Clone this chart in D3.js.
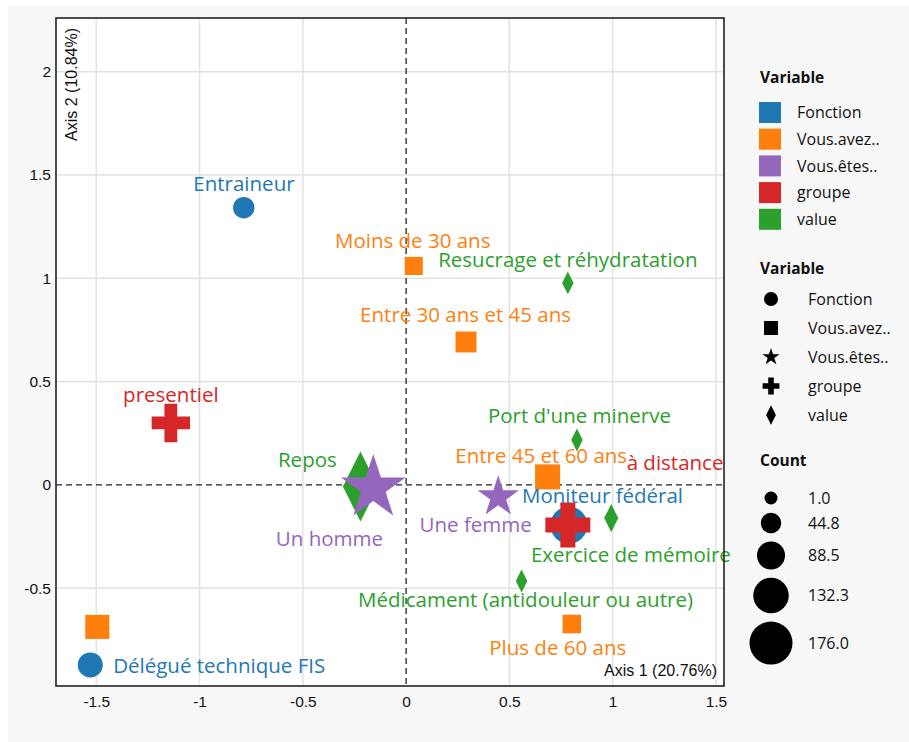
<!DOCTYPE html>
<html>
<head>
<meta charset="utf-8">
<script src="https://cdn.jsdelivr.net/npm/d3@7"></script>
<style>
    body { margin: 0; background: #fff; }
    svg { display: block; }
</style>
</head>
<body>
<svg id="chart" width="909" height="742"></svg>
<script>
// Category labels of the MCA biplot
const labels = [
    'Entraineur', 'Délégué technique FIS', 'Moniteur fédéral',
    'Moins de 30 ans', 'Entre 30 ans et 45 ans', 'Entre 45 et 60 ans', 'Plus de 60 ans', '',
    'Un homme', 'Une femme',
    'presentiel', 'à distance',
    'Resucrage et réhydratation', "Port d'une minerve", 'Exercice de mémoire',
    'Médicament (antidouleur ou autre)', 'Repos'
];
const variable = [
    'Fonction', 'Fonction', 'Fonction',
    'Vous.avez..', 'Vous.avez..', 'Vous.avez..', 'Vous.avez..', 'Vous.avez..',
    'Vous.êtes..', 'Vous.êtes..',
    'groupe', 'groupe',
    'value', 'value', 'value', 'value', 'value'
];
const dim1 = [-0.786, -1.529, 0.788, 0.037, 0.290, 0.685, 0.802, -1.495, -0.159, 0.446, -1.139, 0.783, 0.783, 0.827, 0.993, 0.559, -0.221];
const dim2 = [1.342, -0.871, -0.194, 1.060, 0.692, 0.039, -0.673, -0.687, -0.015, -0.058, 0.300, -0.194, 0.978, 0.218, -0.160, -0.465, -0.008];
const counts = [57, 72, 122, 43, 55, 72, 45, 68, 170, 97, 101, 124, 36, 36, 51, 36, 176];
// where each label text sits (data units, text centre / baseline)
const textDim1 = [-0.785, -0.905, 0.951, 0.032, 0.288, 0.654, 0.734, 0, -0.371, 0.337, -1.139, 1.302, 0.783, 0.839, 1.088, 0.578, -0.478];
const textDim2 = [1.425, -0.910, -0.087, 1.147, 0.789, 0.106, -0.823, 0, -0.295, -0.227, 0.402, 0.073, 1.055, 0.300, -0.373, -0.590, 0.087];

const variableNames = ['Fonction', 'Vous.avez..', 'Vous.êtes..', 'groupe', 'value'];
const variableColors = ['#1f77b4', '#ff7f0e', '#9467bd', '#d62728', '#2ca02c'];
const variableShapes = ['circle', 'square', 'star', 'cross', 'diamond-tall'];
const drawOrder = ['value', 'Fonction', 'Vous.avez..', 'Vous.êtes..', 'groupe'];
const countBreaks = [1.0, 44.8, 88.5, 132.3, 176.0];
const xTicks = [-1.5, -1, -0.5, 0, 0.5, 1, 1.5];
const yTicks = [-0.5, 0, 0.5, 1, 1.5, 2];

const W = 909, H = 742;
const plot = { left: 56, top: 18, right: 724, bottom: 686 };
const labelFont = '"Open Sans", "Noto Sans", sans-serif';
const tickFont = '"Liberation Sans", Arial, sans-serif';

const svg = d3.select('#chart');

const x = d3.scaleLinear().domain([-1.695, 1.539]).range([plot.left, plot.right]);
const y = d3.scaleLinear().domain([-0.973, 2.26]).range([plot.bottom, plot.top]);
const color = d3.scaleOrdinal().domain(variableNames).range(variableColors);
const shape = d3.scaleOrdinal().domain(variableNames).range(variableShapes);
const sizePlot = d3.scaleLinear().domain([1, 176]).range([8, 50]);
const sizeLegend = d3.scaleLinear().domain([1, 176]).range([13, 43]);

// plotly-like marker paths, size = marker diameter
function symbolPath(kind, size) {
    const r = size / 2;
    if (kind === 'circle') {
        return `M${r},0A${r},${r} 0 1,1 0,-${r}A${r},${r} 0 0,1 ${r},0Z`;
    }
    if (kind === 'square') {
        return `M${r},${r}H${-r}V${-r}H${r}Z`;
    }
    if (kind === 'cross') {
        const rc = r * 1.2, rt = r * 0.4;
        return `M${rc},${rt}H${rt}V${rc}H${-rt}V${rt}H${-rc}V${-rt}H${-rt}V${-rc}H${rt}V${-rt}H${rc}Z`;
    }
    if (kind === 'diamond-tall') {
        const dx = r * 0.7, dy = r * 1.4;
        return `M0,${dy}L${dx},0L0,${-dy}L${-dx},0Z`;
    }
    if (kind === 'star') {
        const rs = r * 1.4;
        const x1 = rs * 0.225, x2 = rs * 0.951, x3 = rs * 0.363, x4 = rs * 0.588;
        const y0 = -rs, y1 = rs * -0.309, y3 = rs * 0.118, y4 = rs * 0.809, y5 = rs * 0.382;
        return `M${x1},${y1}H${x2}L${x3},${y3}L${x4},${y4}L0,${y5}L${-x4},${y4}L${-x3},${y3}L${-x2},${y1}H${-x1}L0,${y0}Z`;
    }
    return '';
}

// background
svg.append('rect').attr('width', W).attr('height', H).attr('fill', '#fff');
svg.append('rect').attr('x', 8).attr('y', 6).attr('width', W - 8).attr('height', H - 6).attr('fill', '#f7f7f7');
svg.append('rect')
    .attr('x', plot.left).attr('y', plot.top)
    .attr('width', plot.right - plot.left).attr('height', plot.bottom - plot.top)
    .attr('fill', '#fff');

// grid
const grid = svg.append('g');
grid.selectAll('.gx').data(xTicks.filter(d => d !== 0)).enter().append('line')
    .attr('x1', d => x(d)).attr('x2', d => x(d))
    .attr('y1', plot.top).attr('y2', plot.bottom)
    .attr('stroke', '#e2e2e2').attr('stroke-width', 1.5);
grid.selectAll('.gy').data(yTicks.filter(d => d !== 0)).enter().append('line')
    .attr('y1', d => y(d)).attr('y2', d => y(d))
    .attr('x1', plot.left).attr('x2', plot.right)
    .attr('stroke', '#e2e2e2').attr('stroke-width', 1.5);

// zero lines
svg.append('line')
    .attr('x1', x(0)).attr('x2', x(0)).attr('y1', plot.top).attr('y2', plot.bottom)
    .attr('stroke', '#222').attr('stroke-width', 1.3).attr('stroke-dasharray', '6,4');
svg.append('line')
    .attr('y1', y(0)).attr('y2', y(0)).attr('x1', plot.left).attr('x2', plot.right)
    .attr('stroke', '#222').attr('stroke-width', 1.3).attr('stroke-dasharray', '6,4');

// axes (tick labels only)
const xAxis = d3.axisBottom(x).tickValues(xTicks).tickSize(0).tickPadding(10).tickFormat(d => String(d));
const yAxis = d3.axisLeft(y).tickValues(yTicks).tickSize(0).tickPadding(5).tickFormat(d => String(d));
const gx = svg.append('g').attr('transform', `translate(0,${plot.bottom})`).call(xAxis);
const gy = svg.append('g').attr('transform', `translate(${plot.left},0)`).call(yAxis);
[gx, gy].forEach(g => {
    g.select('.domain').remove();
    g.selectAll('text').attr('font-family', tickFont).attr('font-size', 15.5).attr('fill', '#111');
});

// markers
const points = labels.map((label, i) => ({
    label, variable: variable[i], d1: dim1[i], d2: dim2[i], count: counts[i],
    t1: textDim1[i], t2: textDim2[i]
}));
points.sort((a, b) => drawOrder.indexOf(a.variable) - drawOrder.indexOf(b.variable));

svg.append('g').selectAll('path').data(points).enter().append('path')
    .attr('transform', d => `translate(${x(d.d1)},${y(d.d2)})`)
    .attr('d', d => symbolPath(shape(d.variable), sizePlot(d.count)))
    .attr('fill', d => color(d.variable));

svg.append('g').selectAll('text').data(points.filter(d => d.label)).enter().append('text')
    .attr('x', d => x(d.t1)).attr('y', d => y(d.t2))
    .attr('text-anchor', 'middle')
    .attr('font-family', labelFont).attr('font-size', 20.5)
    .attr('fill', d => color(d.variable))
    .text(d => d.label);

// frame
svg.append('rect')
    .attr('x', plot.left).attr('y', plot.top)
    .attr('width', plot.right - plot.left).attr('height', plot.bottom - plot.top)
    .attr('fill', 'none').attr('stroke', '#222').attr('stroke-width', 1.6);

// axis titles inside the panel
svg.append('text')
    .attr('transform', `translate(77,28) rotate(-90)`)
    .attr('text-anchor', 'end')
    .attr('font-family', tickFont).attr('font-size', 16).attr('fill', '#111')
    .text('Axis 2 (10.84%)');
svg.append('text')
    .attr('x', 717).attr('y', 676)
    .attr('text-anchor', 'end')
    .attr('font-family', tickFont).attr('font-size', 16).attr('fill', '#111')
    .text('Axis 1 (20.76%)');

// legends
const legend = svg.append('g').attr('font-family', labelFont).attr('fill', '#111');

function legendTitle(text, yc) {
    legend.append('text').attr('x', 760).attr('y', yc).attr('dy', '0.35em')
        .attr('font-size', 15.5).attr('font-weight', 'bold').text(text);
}

legendTitle('Variable', 78);
variableNames.forEach((name, i) => {
    const yc = 112.5 + i * 26.7;
    legend.append('rect').attr('x', 759).attr('y', yc - 10.5).attr('width', 22).attr('height', 21)
        .attr('fill', color(name));
    legend.append('text').attr('x', 797).attr('y', yc).attr('dy', '0.35em')
        .attr('font-size', 16).text(name);
});

legendTitle('Variable', 269);
variableNames.forEach((name, i) => {
    const yc = 299 + i * 29;
    legend.append('path').attr('transform', `translate(771,${yc})`)
        .attr('d', symbolPath(shape(name), shape(name) === 'star' ? 13 : 14)).attr('fill', '#000');
    legend.append('text').attr('x', 808).attr('y', yc).attr('dy', '0.35em')
        .attr('font-size', 16).text(name);
});

legendTitle('Count', 461);
let yc = 498, prevD = 0;
countBreaks.forEach((v, i) => {
    const d = sizeLegend(v);
    if (i > 0) yc += (prevD + d) / 2 + 8.25;
    legend.append('circle').attr('cx', 771).attr('cy', yc).attr('r', d / 2).attr('fill', '#000');
    legend.append('text').attr('x', 808).attr('y', yc).attr('dy', '0.35em')
        .attr('font-size', 16).text(d3.format('.1f')(v));
    prevD = d;
});
</script>
</body>
</html>
